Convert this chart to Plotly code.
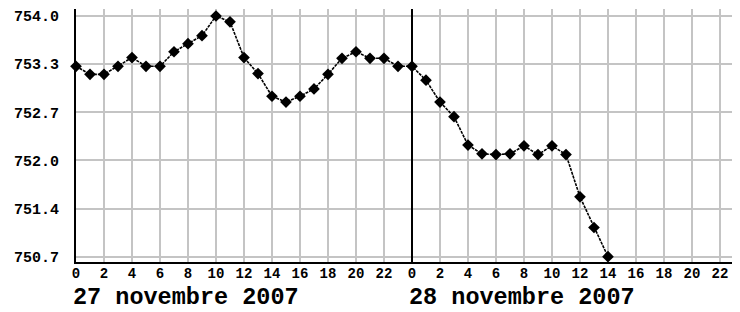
import plotly.graph_objects as go

# hours since 27 novembre 2007 00:00
hours = list(range(0, 39))
pressure = [753.31, 753.20, 753.20, 753.31, 753.43, 753.31, 753.31, 753.51, 753.62, 753.73,
            754.00, 753.92, 753.43, 753.21, 752.90, 752.82, 752.90, 753.00, 753.20, 753.42,
            753.51, 753.42, 753.42, 753.31, 753.31, 753.12, 752.82, 752.62, 752.23, 752.11,
            752.10, 752.11, 752.22, 752.10, 752.22, 752.10, 751.52, 751.10, 750.70]

y_tickvals = [750.70, 751.36, 752.02, 752.68, 753.34, 754.00]
y_ticktext = ["750.7", "751.4", "752.0", "752.7", "753.3", "754.0"]
x_tickvals = list(range(0, 48, 2))
x_ticktext = [str(h % 24) for h in x_tickvals]
day_starts = [0, 24]
day_labels = ["27 novembre 2007", "28 novembre 2007"]

FONT = "Liberation Mono"

fig = go.Figure()
fig.add_trace(go.Scatter(
    x=hours, y=pressure, mode="lines+markers",
    line=dict(color="black", width=1.6, dash="3px,1px"),
    marker=dict(symbol="diamond", size=9, color="black"),
    cliponaxis=False, showlegend=False,
))

fig.add_vline(x=day_starts[1], line=dict(color="black", width=2), layer="above")

for d, lab in zip(day_starts, day_labels):
    fig.add_annotation(x=d, xref="x", xshift=-5, y=-0.142, yref="paper", text=lab,
                       showarrow=False, xanchor="left", yanchor="middle",
                       font=dict(family=FONT, size=23.5, color="black", weight="bold"))

# the page has an 8px body margin, so the figure is shrunk by 8px
fig.update_layout(
    width=732, height=304,
    margin=dict(l=68, r=0, t=1, b=50, autoexpand=False),
    paper_bgcolor="white", plot_bgcolor="white",
    xaxis=dict(range=[0, 47.43], tickvals=x_tickvals, ticktext=x_ticktext,
               showgrid=True, gridcolor="#c4c4c4", gridwidth=2,
               showline=True, linecolor="black", linewidth=2,
               zeroline=False, ticks="", ticklabelstandoff=-3, automargin=False,
               tickfont=dict(family=FONT, size=14, color="black", weight="bold")),
    yaxis=dict(range=[750.627, 754.096], tickvals=y_tickvals, ticktext=y_ticktext,
               showgrid=True, gridcolor="#c4c4c4", gridwidth=2,
               showline=True, linecolor="black", linewidth=2,
               zeroline=False, ticks="", ticklabelstandoff=12, automargin=False,
               tickfont=dict(family=FONT, size=15, color="black", weight="bold")),
)

fig.write_html("out.html")
